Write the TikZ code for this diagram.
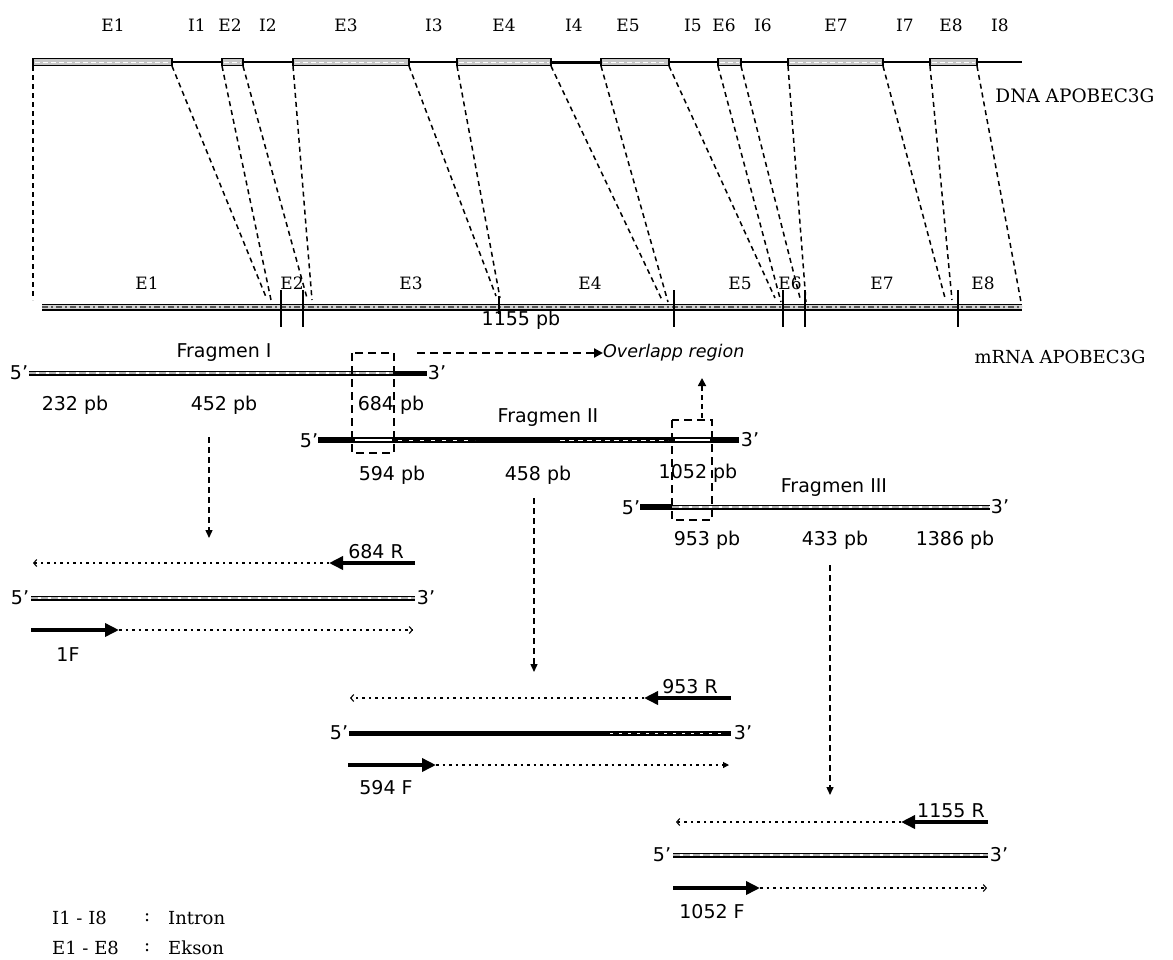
\documentclass[tikz,border=0pt]{standalone}
\usepackage{fontspec}
\setmainfont{DejaVu Serif}
\newfontfamily\sansf{DejaVu Sans}
\usetikzlibrary{arrows.meta}
\begin{document}
\begin{tikzpicture}[x=1pt,y=-1pt,
  serlab/.style={font=\fontsize{17}{20}\selectfont, inner sep=0pt},
  leglab/.style={font=\fontsize{18}{21}\selectfont, inner sep=0pt, anchor=west},
  sanlab/.style={font=\sansf\fontsize{19}{22}\selectfont, inner sep=0pt},
  conn/.style={line width=1.5pt, dash pattern=on 5pt off 4pt},
  exonbox/.style={draw=black, line width=1.1pt, fill=gray!45},
  intron/.style={line width=1.4pt},
  ticks/.style={line width=1.6pt},
  ovbox/.style={line width=2pt, dash pattern=on 8pt off 5pt},
  downarr/.style={line width=1.4pt, dash pattern=on 6pt off 4pt, -{Triangle[length=8pt,width=7pt]}},
  primer/.style={line width=4.5pt, -{Triangle[length=14pt,width=13pt]}},
  dotline/.style={line width=1.1pt, dash pattern=on 2.5pt off 4pt},
  barb/.style={-{Straight Barb[length=3pt,width=7pt]}},
  hollow/.style={line width=5pt, black,
    postaction={draw, white, line width=2.6pt},
    postaction={draw, gray!60, line width=1.2pt, dash pattern=on 7pt off 3pt}},
  mrnaband/.style={line width=7pt, black,
    postaction={draw, gray!35, line width=4pt},
    postaction={draw, black!65, line width=1.2pt, dash pattern=on 6pt off 3pt on 2pt off 3pt}},
  blackstrand/.style={line width=5pt, black},
]
\fill[white] (0,0) rectangle (1173,959);
\useasboundingbox (0,0) rectangle (1173,959);

% ---------------- DNA ----------------
\coordinate (dnaS) at (33,62);
\coordinate (dnaE) at (1022,62);
\draw[intron] (dnaS) -- (dnaE);
\draw[line width=3pt] (551,62) -- (601,62);
\foreach \a/\b/\n in {33/172/1, 222/243/2, 293/409/3, 457/551/4, 601/669/5, 718/741/6, 788/883/7, 930/977/8}{
  \draw[exonbox] (\a,58.5) rectangle (\b,65.5);
  \draw[white, line width=0.9pt, dash pattern=on 5pt off 3pt] (\a+2,62) -- (\b-2,62);
  \coordinate (dL\n) at (\a,66);
  \coordinate (dR\n) at (\b,66);
}
\foreach \t/\x in {E1/113, I1/197, E2/230, I2/268, E3/346, I3/434, E4/504, I4/574, E5/628, I5/693, E6/724, I6/763, E7/836, I7/905, E8/951, I8/1000}{
  \node[serlab] (top\t) at (\x,25) {\t};
}
\node[serlab, font=\fontsize{18.5}{21}\selectfont] (dnalab) at (1075,96) {DNA APOBEC3G};

% ---------------- mRNA ----------------
\coordinate (mS) at (42,307);
\coordinate (mE) at (1022,307);
\draw[mrnaband] (mS) -- (mE);
\foreach \x in {281,303,674,783,805,958}{
  \draw[ticks] (\x,290) -- (\x,327);
}
\draw[ticks] (499,296) -- (499,314);
\foreach \t/\x in {E1/147, E2/292, E3/411, E4/590, E5/740, E6/790, E7/882, E8/983}{
  \node[serlab] (mid\t) at (\x,283) {\t};
}
\node[sanlab] (pb1155) at (521,320) {1155 pb};
\node[serlab, font=\fontsize{18}{21}\selectfont] (mrnalab) at (1060,357) {mRNA APOBEC3G};

% landing points on mRNA
\coordinate (mL1) at (33,300);  \coordinate (mR1) at (266,297);
\coordinate (mL2) at (271,300); \coordinate (mR2) at (307,298);
\coordinate (mL3) at (312,300); \coordinate (mR3) at (496,296);
\coordinate (mL4) at (500,298); \coordinate (mR4) at (662,300);
\coordinate (mL5) at (668,302); \coordinate (mR5) at (775,298);
\coordinate (mL6) at (781,302); \coordinate (mR6) at (800,298);
\coordinate (mL7) at (806,302); \coordinate (mR7) at (945,298);
\coordinate (mL8) at (952,300); \coordinate (mR8) at (1021,302);
\foreach \n in {1,...,8}{
  \draw[conn] (dL\n) -- (mL\n);
  \draw[conn] (dR\n) -- (mR\n);
}

% ---------------- Fragmen I ----------------
\node[sanlab] (frag1) at (224,353) {Fragmen I};
\node[sanlab] (f1five) at (19,373) {5’};
\node[sanlab] (f1three) at (437,373) {3’};
\coordinate (f1s) at (29,373);
\coordinate (f1m) at (394,373);
\coordinate (f1e) at (427,373);
\draw[hollow] (f1s) -- (f1m);
\draw[blackstrand] (f1m) -- (f1e);
\node[sanlab] (pb232) at (75,405) {232 pb};
\node[sanlab] (pb452) at (224,405) {452 pb};
\node[sanlab] (pb684) at (391,405) {684 pb};

% ---------------- Fragmen II ----------------
\node[sanlab] (frag2) at (548,418) {Fragmen II};
\node[sanlab] (f2five) at (309,441) {5’};
\node[sanlab] (f2three) at (750,440) {3’};
\coordinate (f2s) at (318,440);
\coordinate (f2e) at (739,440);
\draw[blackstrand, line width=5.5pt] (f2s) -- (f2e);
\draw[white, line width=1.6pt] (355,440) -- (392,440);
\draw[white, line width=1.6pt] (675,440) -- (710,440);
\draw[white, line width=1pt, dash pattern=on 4pt off 7pt] (398,440) -- (475,440);
\draw[white, line width=1pt, dash pattern=on 5pt off 4pt] (560,440) -- (668,440);
\node[sanlab] (pb594) at (392,475) {594 pb};
\node[sanlab] (pb458) at (538,475) {458 pb};
\node[sanlab] (pb1052) at (698,473) {1052 pb};

% ---------------- Fragmen III ----------------
\node[sanlab] (frag3) at (834,488) {Fragmen III};
\node[sanlab] (f3five) at (631,508) {5’};
\node[sanlab] (f3three) at (1000,507) {3’};
\coordinate (f3s) at (640,507);
\coordinate (f3m) at (672,507);
\coordinate (f3e) at (990,507);
\draw[blackstrand, line width=5.5pt] (f3s) -- (f3m);
\draw[hollow] (f3m) -- (f3e);
\node[sanlab] (pb953) at (707,540) {953 pb};
\node[sanlab] (pb433) at (835,540) {433 pb};
\node[sanlab] (pb1386) at (955,540) {1386 pb};

% ---------------- overlap boxes ----------------
\draw[ovbox] (352,353) rectangle (394,453);
\draw[ovbox] (672,420) rectangle (712,520);
\coordinate (ovs) at (417,353);
\node[font=\sansf\itshape\fontsize{17.5}{20}\selectfont, inner sep=0pt, anchor=west] (ovlab) at (603,353) {Overlapp region};
\draw[line width=2.2pt, dash pattern=on 8pt off 5pt, -{Triangle[length=9pt,width=9pt]}] (ovs) -- (ovlab.west);
\coordinate (upS) at (702,418);
\coordinate (upE) at (702,378);
\draw[line width=1.7pt, dash pattern=on 5pt off 4pt, -{Triangle[length=8pt,width=8pt]}] (upS) -- (upE);

% ---------------- down arrows ----------------
\coordinate (d1s) at (209,437); \coordinate (d1e) at (209,538);
\coordinate (d2s) at (534,498); \coordinate (d2e) at (534,672);
\coordinate (d3s) at (830,565); \coordinate (d3e) at (830,795);
\draw[downarr] (d1s) -- (d1e);
\draw[downarr] (d2s) -- (d2e);
\draw[downarr] (d3s) -- (d3e);

% ---------------- Row 1 ----------------
\coordinate (r1a) at (415,563); \coordinate (r1b) at (329,563); \coordinate (r1c) at (33,563);
\draw[primer] (r1a) -- (r1b);
\draw[dotline, barb] (r1b) -- (r1c);
\node[sanlab, anchor=base] (p684R) at (376,558) {684 R};
\node[sanlab] (r1five) at (20,598) {5’};
\node[sanlab] (r1three) at (426,598) {3’};
\coordinate (r1s) at (31,598); \coordinate (r1e) at (415,598);
\draw[hollow] (r1s) -- (r1e);
\coordinate (r1f) at (31,630); \coordinate (r1g) at (119,630); \coordinate (r1h) at (413,630);
\draw[primer] (r1f) -- (r1g);
\draw[dotline, barb] (r1g) -- (r1h);
\node[sanlab] (p1F) at (68,655) {1F};

% ---------------- Row 2 ----------------
\coordinate (r2a) at (731,698); \coordinate (r2b) at (644,698); \coordinate (r2c) at (350,698);
\draw[primer] (r2a) -- (r2b);
\draw[dotline, barb] (r2b) -- (r2c);
\node[sanlab, anchor=base] (p953R) at (690,693) {953 R};
\node[sanlab] (r2five) at (339,733) {5’};
\node[sanlab] (r2three) at (743,733) {3’};
\coordinate (r2s) at (349,733); \coordinate (r2e) at (731,733);
\draw[blackstrand] (r2s) -- (r2e);
\draw[white, line width=0.8pt, dash pattern=on 3pt off 6pt] (610,733) -- (725,733);
\coordinate (r2f) at (348,765); \coordinate (r2g) at (436,765); \coordinate (r2h) at (729,765);
\draw[primer] (r2f) -- (r2g);
\draw[dotline, -{Triangle[length=6pt,width=6pt]}] (r2g) -- (r2h);
\node[sanlab] (p594F) at (386,788) {594 F};

% ---------------- Row 3 ----------------
\coordinate (r3a) at (988,822); \coordinate (r3b) at (901,822); \coordinate (r3c) at (676,822);
\draw[primer] (r3a) -- (r3b);
\draw[dotline, barb] (r3b) -- (r3c);
\node[sanlab, anchor=base] (p1155R) at (951,817) {1155 R};
\node[sanlab] (r3five) at (662,855) {5’};
\node[sanlab] (r3three) at (999,855) {3’};
\coordinate (r3s) at (673,855); \coordinate (r3e) at (988,855);
\draw[hollow] (r3s) -- (r3e);
\coordinate (r3f) at (673,888); \coordinate (r3g) at (760,888); \coordinate (r3h) at (987,888);
\draw[primer] (r3f) -- (r3g);
\draw[dotline, barb] (r3g) -- (r3h);
\node[sanlab] (p1052F) at (712,912) {1052 F};

% ---------------- Legend ----------------
\node[leglab] (legI) at (52,918) {I1 - I8};
\node[leglab] (legIc) at (144,918) {:};
\node[leglab] (legIt) at (168,918) {Intron};
\node[leglab] (legE) at (52,948) {E1 - E8};
\node[leglab] (legEc) at (144,948) {:};
\node[leglab] (legEt) at (168,948) {Ekson};
\end{tikzpicture}
\end{document}
